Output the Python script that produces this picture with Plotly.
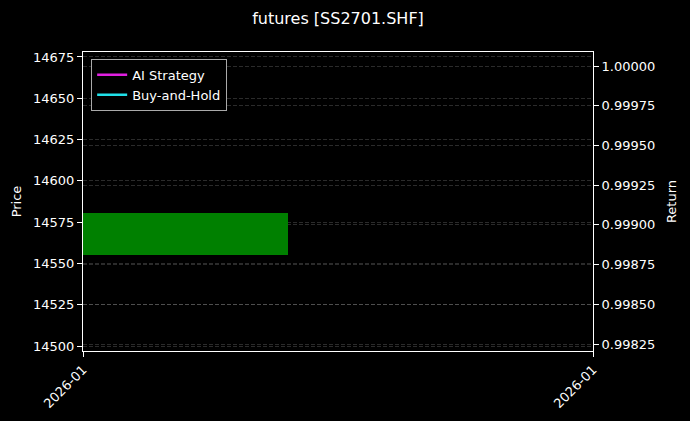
import pandas as pd
import plotly.graph_objects as go

# one daily candle
dates = ["2026-01-05"]
opens = [14555.0]
closes = [14580.5]

# return curves (single point, so no visible line)
ai_strategy = [1.0]
buy_and_hold = [1.0]

price_ticks = [14500, 14525, 14550, 14575, 14600, 14625, 14650, 14675]
return_ticks = [0.99825, 0.99850, 0.99875, 0.99900, 0.99925, 0.99950, 0.99975, 1.00000]

day_ms = 86400000
bar_width = 0.8  # days
d0 = pd.Timestamp(dates[0])
x_lo = d0 - pd.Timedelta(days=bar_width / 2)
x_hi = x_lo + pd.Timedelta(days=bar_width * 510 / 205)

fig = go.Figure()

colors = ["green" if c >= o else "red" for o, c in zip(opens, closes)]
fig.add_trace(go.Bar(
    x=dates, y=[c - o for o, c in zip(opens, closes)], base=opens,
    width=[bar_width * day_ms], marker=dict(color=colors, line=dict(width=0)),
    showlegend=False, yaxis="y",
))

fig.add_trace(go.Scatter(x=dates, y=ai_strategy, mode="lines", name="AI Strategy",
                         line=dict(color="#e020e0", width=2.5), yaxis="y2"))
fig.add_trace(go.Scatter(x=dates, y=buy_and_hold, mode="lines", name="Buy-and-Hold",
                         line=dict(color="#20e0e8", width=2.5), yaxis="y2"))

grid = "rgba(255,255,255,0.17)"
fig.update_layout(
    width=690, height=421,
    paper_bgcolor="black", plot_bgcolor="black",
    font=dict(family="DejaVu Sans", color="white", size=13),
    margin=dict(l=83, r=97, t=52, b=70),
    title=dict(text="futures [SS2701.SHF]", x=338 / 690, xanchor="center",
               y=1 - 18 / 421, yanchor="middle", font=dict(size=16)),
    bargap=0,
    xaxis=dict(type="date", range=[x_lo, x_hi], automargin=False,
               tickvals=[x_lo, x_hi], ticktext=["2026-01", "2026-01"],
               tickangle=-45, ticks="outside", ticklen=5, tickcolor="white",
               showgrid=False, zeroline=False,
               showline=True, linecolor="white", linewidth=1, mirror=True),
    yaxis=dict(title=dict(text="Price", standoff=8, font=dict(size=13)),
               range=[14497, 14678], automargin=False,
               tickvals=price_ticks, tickformat="d",
               ticks="outside", ticklen=5, tickcolor="white",
               showgrid=True, gridcolor=grid, gridwidth=0.5, griddash="4px,2px",
               zeroline=False, showline=True, linecolor="white", linewidth=1),
    yaxis2=dict(title=dict(text="Return", standoff=12, font=dict(size=13)),
                overlaying="y", side="right", automargin=False,
                range=[0.998206, 1.0000881], tickvals=return_ticks, tickformat=".5f",
                ticks="outside", ticklen=5, tickcolor="white",
                showgrid=True, gridcolor=grid, gridwidth=0.5, griddash="4px,2px",
                zeroline=False, showline=True, linecolor="white", linewidth=1),
    legend=dict(x=0.016, y=0.977, xanchor="left", yanchor="top",
                bgcolor="black", bordercolor="#aaaaaa", borderwidth=1,
                font=dict(size=13), tracegroupgap=0),
)

fig.write_html("out.html", config={"displayModeBar": False},
               post_script="document.body.style.margin='0';")
